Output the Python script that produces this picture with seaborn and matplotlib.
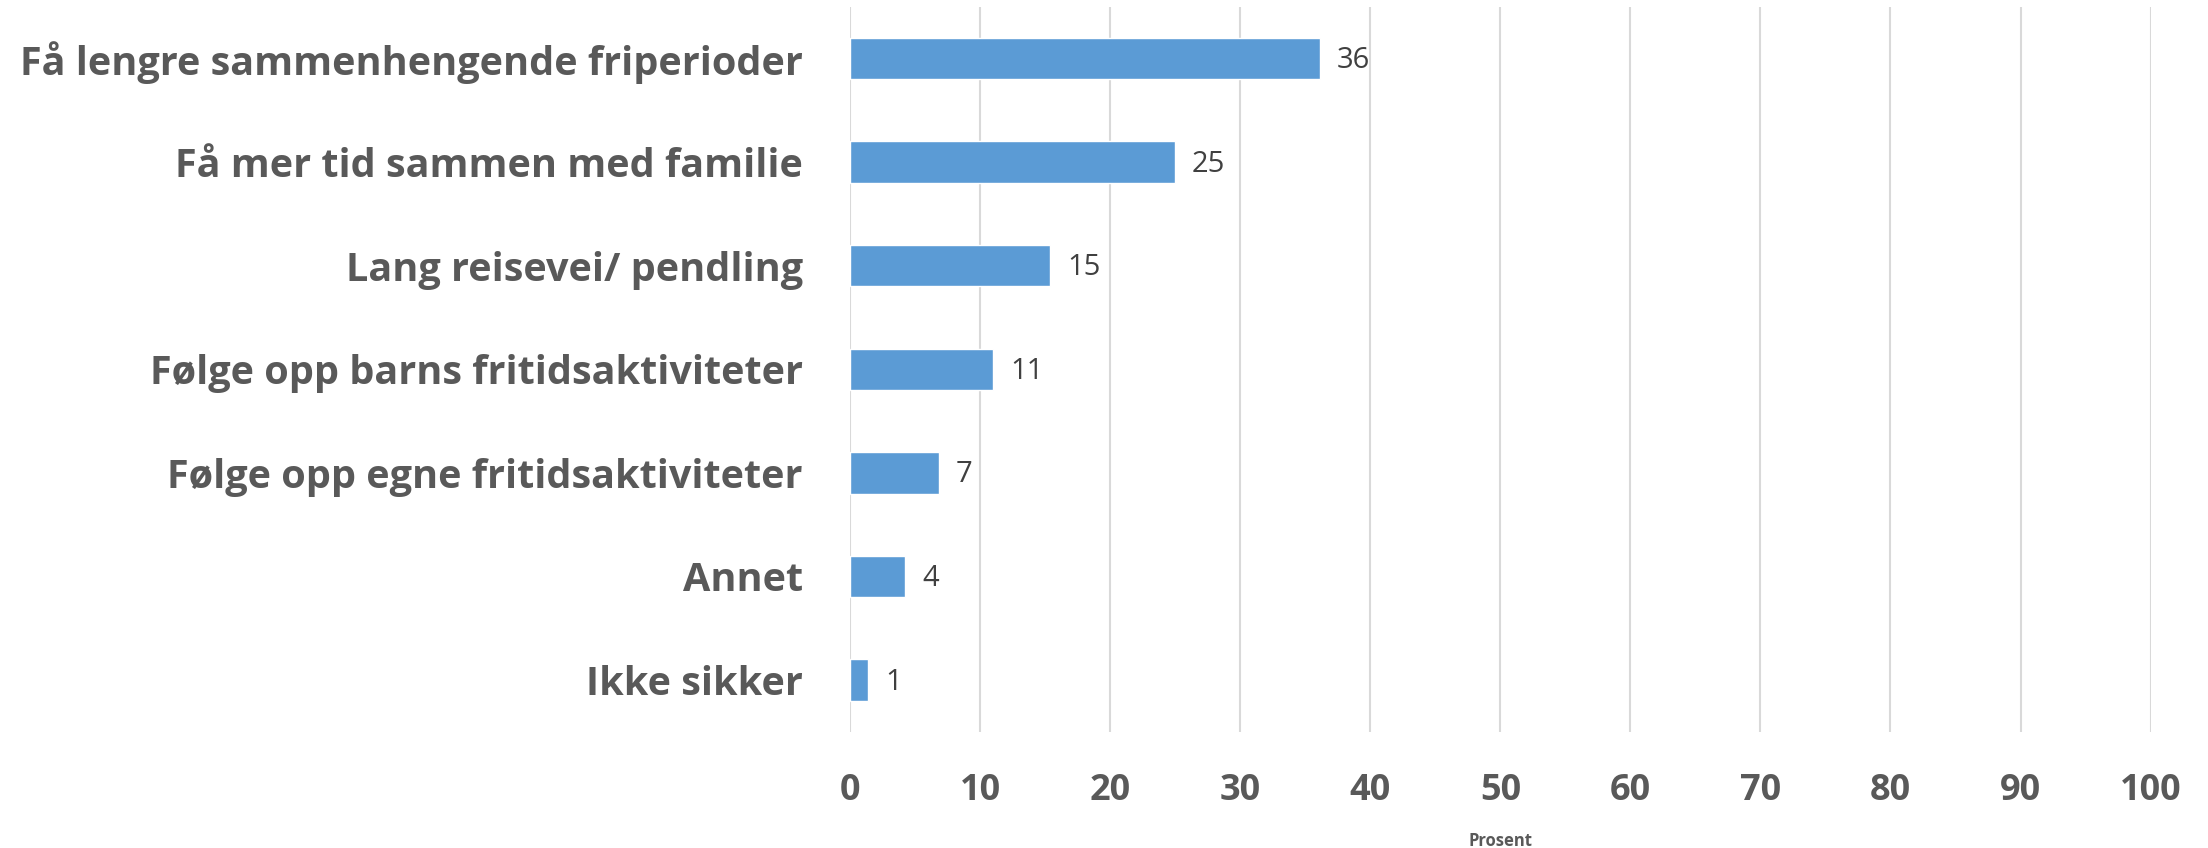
import pandas as pd
import seaborn as sns
import matplotlib.pyplot as plt

categories = [
    "Få lengre sammenhengende friperioder",
    "Få mer tid sammen med familie",
    "Lang reisevei/ pendling",
    "Følge opp barns fritidsaktiviteter",
    "Følge opp egne fritidsaktiviteter",
    "Annet",
    "Ikke sikker",
]
values = [36.1, 25.0, 15.4, 11.0, 6.8, 4.25, 1.4]
value_labels = ["36", "25", "15", "11", "7", "4", "1"]
x_ticks = [0, 10, 20, 30, 40, 50, 60, 70, 80, 90, 100]

df = pd.DataFrame({"kategori": categories, "prosent": values})

sns.set_style("white")
plt.rcParams["font.family"] = ["Open Sans", "DejaVu Sans"]

fig = plt.figure(figsize=(22.08, 8.48), dpi=100)
ax = fig.add_axes([0.385, 0.137, 0.589, 0.855])

sns.barplot(data=df, x="prosent", y="kategori", orient="h", color="#5B9BD5",
            width=0.4, saturation=1, ax=ax, zorder=3)

for i, (v, lab) in enumerate(zip(values, value_labels)):
    ax.text(v + 1.3, i + 0.02, lab, va="center", ha="left", fontsize=21, color="#404040")

ax.set_xlim(0, 100)
ax.set_xticks(x_ticks)
ax.set_ylim(6.5, -0.5)
ax.grid(axis="x", color="#d9d9d9", linewidth=1.5, zorder=0)
ax.grid(axis="y", visible=False)
for s in ax.spines.values():
    s.set_visible(False)
ax.tick_params(axis="both", length=0)
ax.tick_params(axis="y", pad=34)
ax.tick_params(axis="x", pad=30)

for t in ax.get_yticklabels():
    t.set_fontsize(28.5)
    t.set_fontweight("bold")
    t.set_color("#595959")
for t in ax.get_xticklabels():
    t.set_fontsize(26)
    t.set_fontweight("bold")
    t.set_color("#595959")

ax.set_ylabel("")
ax.set_xlabel("Prosent", fontsize=12, fontweight="bold", color="#595959", labelpad=16)

fig.savefig("out.png", dpi=100)
